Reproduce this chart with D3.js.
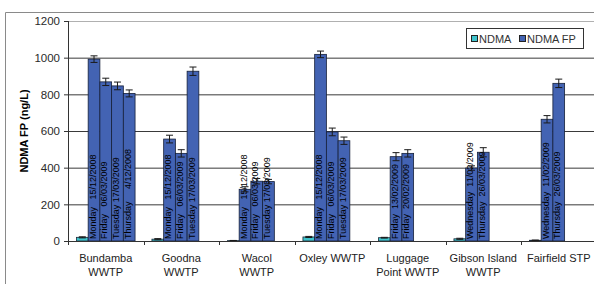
<!DOCTYPE html>
<html>
<head>
<meta charset="utf-8">
<script src="https://cdn.jsdelivr.net/npm/d3@7"></script>
<style>
  body { margin: 0; background: #fff; }
  text { font-family: "Liberation Sans", Arial, sans-serif; }
</style>
</head>
<body>
<div id="chart"></div>
<script>
// site names (split into lines as on the category axis)
var siteLabels = [
  ["Bundamba", "WWTP"], ["Goodna", "WWTP"], ["Wacol", "WWTP"], ["Oxley WWTP"],
  ["Luggage", "Point WWTP"], ["Gibson Island", "WWTP"], ["Fairfield STP"]
];
var ndma = [20, 10, 2, 22, 18, 12, 4];
var ndmaErr = [3, 3, 1, 3, 2, 3, 1];
var fp = [
  [992, 868, 846, 805], [556, 478, 926], [282, 326, 324], [1018, 595, 547],
  [460, 478], [398, 484], [664, 860]
];
var fpErr = [
  [18, 20, 21, 19], [21, 20, 23], [14, 15, 12], [18, 21, 20],
  [22, 20], [12, 25], [20, 23]
];
var dates = [
  ["Monday   15/12/2008", "Friday   06/03/2009", "Tuesday 17/03/2009", "Thursday     4/12/2008"],
  ["Monday   15/12/2008", "Friday   06/03/2009", "Tuesday 17/03/2009"],
  ["Monday   15/12/2008", "Friday   06/03/2009", "Tuesday 17/03/2009"],
  ["Monday   15/12/2008", "Friday   06/03/2009", "Tuesday 17/03/2009"],
  ["Friday  13/02/2009", "Friday  20/02/2009"],
  ["Wednesday  11/02/2009", "Thursday  26/03/2009"],
  ["Wednesday  11/02/2009", "Thursday  26/03/2009"]
];
var yTicks = [0, 200, 400, 600, 800, 1000, 1200];
var seriesNames = ["NDMA", "NDMA FP"];

var W = 594, H = 284;
var mLeft = 68, mTop = 21, mBottom = 241, mRight = 596.5;
var colNdma = "#3fc4cc", colFp = "#4363b3";

var svg = d3.select("#chart").append("svg")
    .attr("width", W)
    .attr("height", H);

// outer chart frame (cropped at right and bottom)
svg.append("path")
    .attr("d", "M5.5," + H + "V12.5H" + W)
    .attr("fill", "none")
    .attr("stroke", "#8a8a8a");

var idx = d3.range(siteLabels.length);
var x = d3.scaleBand().domain(idx).range([mLeft, mRight]).padding(0);
var slot = d3.scaleBand().domain(d3.range(5)).range([0, x.bandwidth()])
    .paddingInner(0).paddingOuter(0.72);
var y = d3.scaleLinear().domain([0, 1200]).range([mBottom, mTop]);

// gridlines
svg.append("g")
    .attr("class", "grid")
    .attr("transform", "translate(" + mLeft + ",0)")
    .call(d3.axisLeft(y).tickValues(yTicks.slice(1)).tickSize(-(W - mLeft)).tickFormat(""))
    .call(function(g) { g.select(".domain").remove(); })
    .selectAll("line")
    .attr("stroke", function(d) { return d == 1200 ? "#b0b0b0" : "#3a3a3a"; });

// y axis
svg.append("g")
    .attr("transform", "translate(" + mLeft + ",0)")
    .call(d3.axisLeft(y).tickValues(yTicks).tickSize(4).tickPadding(4).tickFormat(d3.format("d")))
    .call(function(g) {
      g.select(".domain").attr("stroke", "#333").attr("d", "M0.5," + mTop + "V" + mBottom);
      g.selectAll("line").attr("stroke", "#333");
      g.selectAll("text").attr("font-size", 11.5).attr("fill", "#2a2a2a")
        .attr("font-family", '"Liberation Sans", Arial, sans-serif');
    });

svg.append("text")
    .attr("transform", "translate(28,131) rotate(-90)")
    .attr("text-anchor", "middle")
    .attr("font-size", 11)
    .attr("font-weight", "bold")
    .text("NDMA FP (ng/L)");

// bars per site
var groups = svg.selectAll("g.site")
    .data(idx)
    .enter().append("g")
    .attr("class", "site")
    .attr("transform", function(i) { return "translate(" + x(i) + ",0)"; });

// NDMA bar (first slot)
groups.append("rect")
    .attr("x", slot(0))
    .attr("width", slot.bandwidth())
    .attr("y", function(i) { return y(ndma[i]); })
    .attr("height", function(i) { return y(0) - y(ndma[i]); })
    .attr("fill", colNdma)
    .attr("stroke", "#1d2a3a")
    .attr("stroke-width", 0.8);

groups.each(function(i) {
  var g = d3.select(this);
  var items = fp[i].map(function(v, k) {
    return { v: v, e: fpErr[i][k], label: dates[i][k], k: k + 1 };
  });

  g.selectAll("rect.fp")
      .data(items)
      .enter().append("rect")
      .attr("class", "fp")
      .attr("x", function(d) { return slot(d.k); })
      .attr("width", slot.bandwidth())
      .attr("y", function(d) { return y(d.v); })
      .attr("height", function(d) { return y(0) - y(d.v); })
      .attr("fill", colFp)
      .attr("stroke", "#16203a")
      .attr("stroke-width", 0.8);

  g.selectAll("text.date")
      .data(items)
      .enter().append("text")
      .attr("class", "date")
      .attr("transform", function(d) {
        return "translate(" + (slot(d.k) + 7.6) + "," + (y(0) - 2) + ") rotate(-90)";
      })
      .attr("font-size", 9)
      .attr("fill", "#000")
      .style("white-space", "pre")
      .text(function(d) { return d.label; });

  // error bars: NDMA + NDMA FP
  var errs = [{ v: ndma[i], e: ndmaErr[i], k: 0 }].concat(items);
  var eb = g.selectAll("g.err")
      .data(errs)
      .enter().append("g")
      .attr("class", "err")
      .attr("stroke", "#1a1a1a")
      .attr("stroke-width", 1);
  eb.append("line")
      .attr("x1", function(d) { return slot(d.k) + slot.bandwidth() / 2; })
      .attr("x2", function(d) { return slot(d.k) + slot.bandwidth() / 2; })
      .attr("y1", function(d) { return y(d.v + d.e); })
      .attr("y2", function(d) { return y(Math.max(0, d.v - d.e)); });
  [1, -1].forEach(function(s) {
    eb.append("line")
        .attr("x1", function(d) { return slot(d.k) + slot.bandwidth() / 2 - 3.5; })
        .attr("x2", function(d) { return slot(d.k) + slot.bandwidth() / 2 + 3.5; })
        .attr("y1", function(d) { return y(Math.max(0, d.v + s * d.e)); })
        .attr("y2", function(d) { return y(Math.max(0, d.v + s * d.e)); });
  });
});

// x axis line and category ticks
svg.append("g")
    .attr("transform", "translate(0," + mBottom + ")")
    .call(d3.axisBottom(x).tickSize(0).tickFormat(""))
    .call(function(g) { g.select(".domain").attr("stroke", "#333"); });

svg.selectAll("line.xtick")
    .data(idx.concat([idx.length]))
    .enter().append("line")
    .attr("class", "xtick")
    .attr("x1", function(i) { return Math.round(mLeft + i * x.step()) + 0.5; })
    .attr("x2", function(i) { return Math.round(mLeft + i * x.step()) + 0.5; })
    .attr("y1", mBottom)
    .attr("y2", mBottom + 4)
    .attr("stroke", "#333");

svg.selectAll("text.cat")
    .data(idx)
    .enter().append("text")
    .attr("class", "cat")
    .attr("text-anchor", "middle")
    .attr("font-size", 11)
    .attr("fill", "#222")
    .each(function(i) {
      var t = d3.select(this);
      siteLabels[i].forEach(function(line, j) {
        t.append("tspan")
          .attr("x", x(i) + x.bandwidth() / 2)
          .attr("y", 262 + j * 13.5)
          .text(line);
      });
    });

// legend
var legend = svg.append("g").attr("transform", "translate(466,28)");
legend.append("rect")
    .attr("x", 0.5).attr("y", 0.5)
    .attr("width", 117).attr("height", 20)
    .attr("fill", "#fff")
    .attr("stroke", "#333");
var legX = [5, 53];
legend.selectAll("g.item")
    .data(seriesNames)
    .enter().append("g")
    .attr("class", "item")
    .attr("transform", function(d, i) { return "translate(" + legX[i] + ",0)"; })
    .each(function(d, i) {
      var g = d3.select(this);
      g.append("rect")
        .attr("x", 0.5).attr("y", 7.5)
        .attr("width", 6).attr("height", 6)
        .attr("fill", i == 0 ? colNdma : colFp)
        .attr("stroke", "#222");
      g.append("text")
        .attr("x", 8).attr("y", 14.5)
        .attr("font-size", 11)
        .attr("fill", "#333")
        .text(d);
    });
</script>
</body>
</html>
